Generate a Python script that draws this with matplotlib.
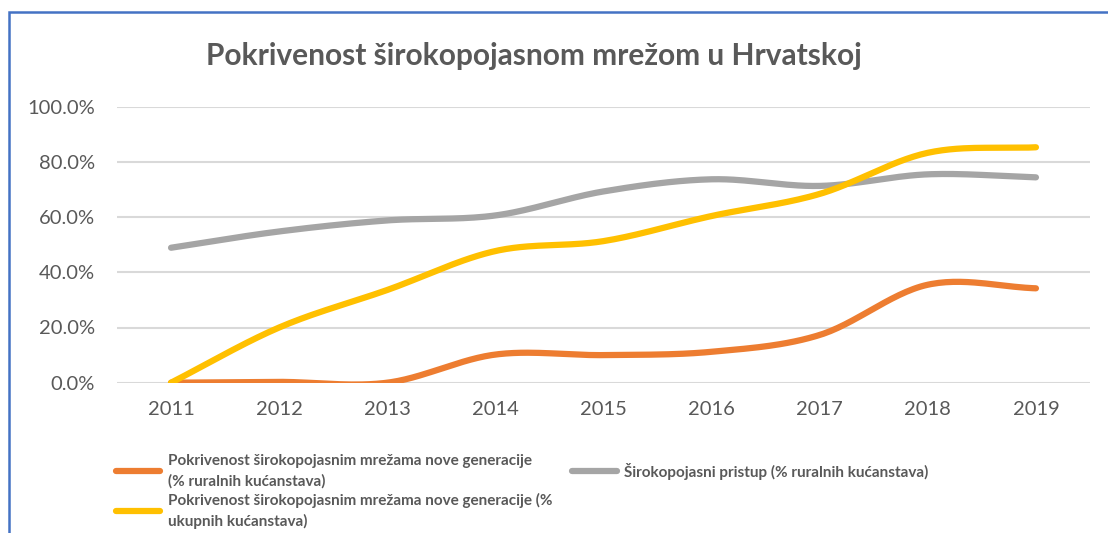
import numpy as np
import matplotlib
matplotlib.use("Agg")
import matplotlib.pyplot as plt
from matplotlib.lines import Line2D
from matplotlib.patches import Rectangle

# data (share of households)
years = ["2011", "2012", "2013", "2014", "2015", "2016", "2017", "2018", "2019"]
ngb_rural = [0.0, 0.3, 0.0, 10.2, 10.0, 11.2, 17.3, 35.5, 34.2]
bb_rural = [48.9, 54.8, 58.8, 60.6, 69.3, 73.7, 71.3, 75.5, 74.4]
ngb_total = [0.0, 20.0, 33.6, 47.7, 51.3, 60.4, 68.4, 83.3, 85.3]

labels = [
    "Pokrivenost širokopojasnim mrežama nove generacije\n(% ruralnih kućanstava)",
    "Širokopojasni pristup (% ruralnih kućanstava)",
    "Pokrivenost širokopojasnim mrežama nove generacije (%\nukupnih kućanstava)",
]
colors = ["#ED7D31", "#A5A5A5", "#FFC000"]
TXT = "#595959"

plt.rcParams["font.family"] = ["Lato", "DejaVu Sans"]


def smooth(y, n=30):
    # Catmull-Rom curve through the points, like Excel's smoothed line
    y = np.asarray(y, dtype=float) / 100.0
    x = np.arange(len(y), dtype=float)
    px = np.concatenate([[2 * x[0] - x[1]], x, [2 * x[-1] - x[-2]]])
    py = np.concatenate([[2 * y[0] - y[1]], y, [2 * y[-1] - y[-2]]])
    xs, ys = [], []
    t = np.linspace(0, 1, n, endpoint=False)
    for i in range(1, len(px) - 2):
        for arr, out in ((px, xs), (py, ys)):
            p0, p1, p2, p3 = arr[i - 1], arr[i], arr[i + 1], arr[i + 2]
            out.extend(0.5 * ((2 * p1) + (-p0 + p2) * t
                              + (2 * p0 - 5 * p1 + 4 * p2 - p3) * t ** 2
                              + (-p0 + 3 * p1 - 3 * p2 + p3) * t ** 3))
    xs.append(x[-1])
    ys.append(y[-1])
    return np.array(xs), np.array(ys)


W, H = 1108, 533
fig = plt.figure(figsize=(W / 100, H / 100), dpi=100)
ax = fig.add_axes([117 / W, 1 - 382.7 / H, 973 / W, 276 / H])

for vals, c in zip([ngb_rural, bb_rural, ngb_total], colors):
    xs, ys = smooth(vals)
    ax.plot(xs, ys, color=c, lw=4.5, solid_capstyle="round", zorder=3)

ax.set_xlim(-0.5, 8.5)
ax.set_ylim(0, 1.0)
ax.set_xticks(range(len(years)))
ax.set_xticklabels(years)
ax.set_yticks(np.arange(0, 1.01, 0.2))
ax.set_yticklabels([f"{v * 100:.1f}%" for v in np.arange(0, 1.01, 0.2)])
ax.yaxis.grid(True, color="#D9D9D9", lw=1.5)
ax.set_axisbelow(True)
for s in ax.spines.values():
    s.set_visible(False)
ax.tick_params(axis="both", length=0, labelsize=14.5, labelcolor=TXT)
ax.tick_params(axis="y", pad=16)
ax.tick_params(axis="x", pad=13)

fig.text(534 / W, 1 - 56 / H, "Pokrivenost širokopojasnom mrežom u Hrvatskoj",
         ha="center", va="center", fontsize=21.5, fontweight="bold", color=TXT)

handles = [Line2D([], [], color=c, lw=4.5, solid_capstyle="round") for c in colors]
order = [0, 2, 1]
leg = fig.legend([handles[i] for i in order], [labels[i] for i in order],
                 ncol=2, loc="upper left", bbox_to_anchor=(116 / W, 1 - 454 / H),
                 frameon=False, fontsize=11, handlelength=2.9, handletextpad=0.5,
                 columnspacing=1.3, labelspacing=0.3, borderpad=0, borderaxespad=0)
for t in leg.get_texts():
    t.set_color(TXT)
    t.set_fontweight("bold")
    t.set_linespacing(1.5)

# blue chart frame, only top and left edges are inside the picture
fig.add_artist(Rectangle((9 / W, -0.2), 1.2, 1 - 12 / H + 0.2, transform=fig.transFigure,
                         fill=False, edgecolor="#4472C4", lw=1.8))

fig.savefig("out.png", dpi=100)
